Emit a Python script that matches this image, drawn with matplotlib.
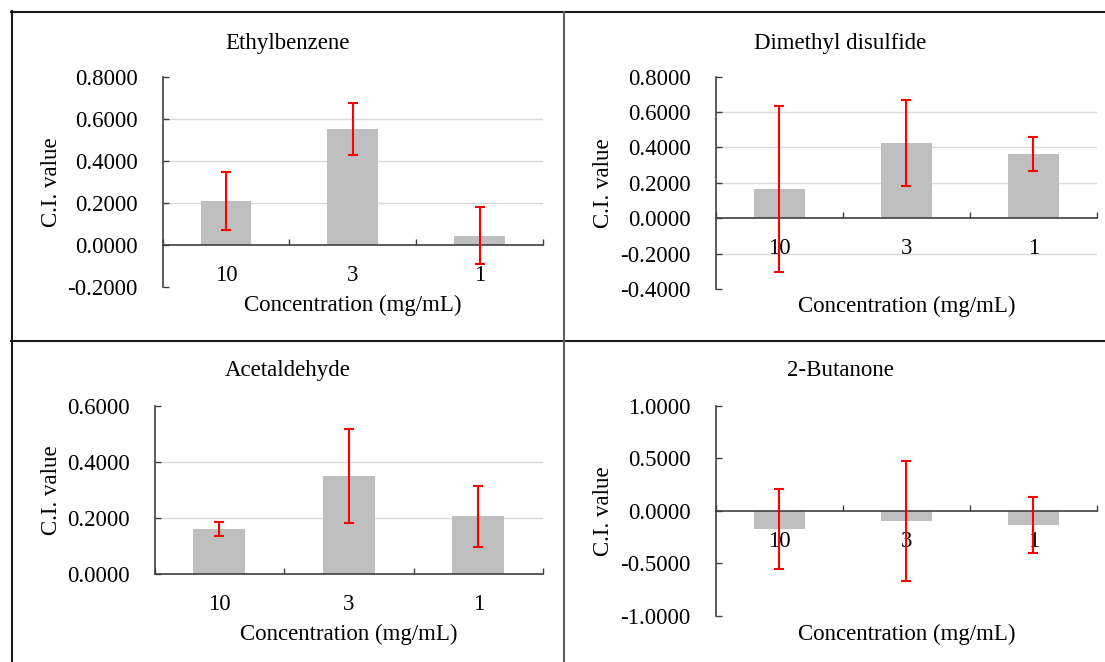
import matplotlib.pyplot as plt
import numpy as np
from matplotlib.lines import Line2D
from matplotlib.ticker import FuncFormatter

plt.rcParams['font.family'] = ['Liberation Serif', 'DejaVu Serif']
plt.rcParams['font.size'] = 16.5
plt.rcParams['axes.unicode_minus'] = False

# data
categories = ['10', '3', '1']
x_label = 'Concentration (mg/mL)'
y_label = 'C.I. value'

eth_vals = [0.210, 0.552, 0.044]
eth_err = [0.140, 0.124, 0.135]
dmds_vals = [0.165, 0.426, 0.362]
dmds_err = [0.467, 0.242, 0.097]
acet_vals = [0.160, 0.350, 0.206]
acet_err = [0.026, 0.167, 0.109]
buta_vals = [-0.170, -0.094, -0.134]
buta_err = [0.381, 0.574, 0.269]

W, H = 1105, 662
fig = plt.figure(figsize=(W / 100, H / 100), dpi=100)

# title, values, errors, y ticks, gridlines?, axes box px (l, t, r, b),
# title (x, baseline y), ylabel baseline x, xlabel baseline y
panels = [
    ('Ethylbenzene', eth_vals, eth_err, np.arange(-0.2, 0.81, 0.2), True,
     (162.5, 77, 543, 287), (287.5, 48.5), 57, 311.5),
    ('Dimethyl disulfide', dmds_vals, dmds_err, np.arange(-0.4, 0.81, 0.2), True,
     (715.7, 76.7, 1097, 289), (840, 48.5), 609, 312),
    ('Acetaldehyde', acet_vals, acet_err, np.arange(0, 0.61, 0.2), True,
     (154.6, 406, 543, 574), (287.5, 376.5), 57, 640),
    ('2-Butanone', buta_vals, buta_err, np.arange(-1.0, 1.01, 0.5), False,
     (715.7, 406, 1097, 615.7), (840, 376.5), 609, 640),
]

x = np.arange(len(categories))
for title, vals, errs, yt, grid, box, tpos, ylx, xly in panels:
    l, t, r, b = box
    ax = fig.add_axes([l / W, 1 - b / H, (r - l) / W, (b - t) / H])
    ax.bar(x, vals, width=0.4, color='#BFBFBF', zorder=1)
    ax.errorbar(x, vals, yerr=errs, fmt='none', ecolor='#FF0000',
                elinewidth=1.5, capsize=3.5, capthick=1.5, zorder=4)
    ax.set_xlim(-0.5, len(categories) - 0.5)
    ax.set_ylim(yt[0], yt[-1])
    ax.set_yticks(yt)
    ax.yaxis.set_major_formatter(FuncFormatter(lambda v, p: f'{v:.4f}'))
    if grid:
        for v in yt[1:-1]:
            if abs(v) > 1e-9:
                ax.axhline(v, color='#D9D9D9', lw=1, zorder=0)
    ax.set_xticks(x)
    ax.set_xticklabels(categories)
    ax.set_xticks(np.arange(-0.5, len(categories)), minor=True)
    ax.tick_params(axis='x', which='major', length=0, pad=14.5)
    ax.tick_params(axis='x', which='minor', direction='in', length=4.3,
                   width=1, color='#404040')
    ax.tick_params(axis='y', direction='in', length=4.3, width=1,
                   color='#404040', pad=18)
    for s in ('top', 'right'):
        ax.spines[s].set_visible(False)
    ax.spines['bottom'].set_position(('data', 0))
    for s in ('left', 'bottom'):
        ax.spines[s].set_color('#404040')
        ax.spines[s].set_linewidth(1.2)
    ax.set_ylabel(y_label, va='baseline')
    ax.yaxis.set_label_coords((ylx - l) / (r - l), 0.5)
    ax.set_xlabel(x_label, va='baseline')
    ax.xaxis.set_label_coords(0.5, (b - xly) / (b - t))
    fig.text(tpos[0] / W, 1 - tpos[1] / H, title, ha='center', va='baseline')

# table borders
def hline(y, x0, x1, c='#1a1a1a', lw=1.5):
    fig.add_artist(Line2D([x0 / W, x1 / W], [1 - y / H, 1 - y / H],
                          transform=fig.transFigure, color=c, lw=lw))

def vline(xp, y0, y1, c='#1a1a1a', lw=1.5):
    fig.add_artist(Line2D([xp / W, xp / W], [1 - y0 / H, 1 - y1 / H],
                          transform=fig.transFigure, color=c, lw=lw))

hline(12, 11, W)
hline(341.3, 11, W)
vline(11.8, 11, H)
vline(563.5, 12, H, c='#606060')

fig.savefig('out.png', dpi=100)
